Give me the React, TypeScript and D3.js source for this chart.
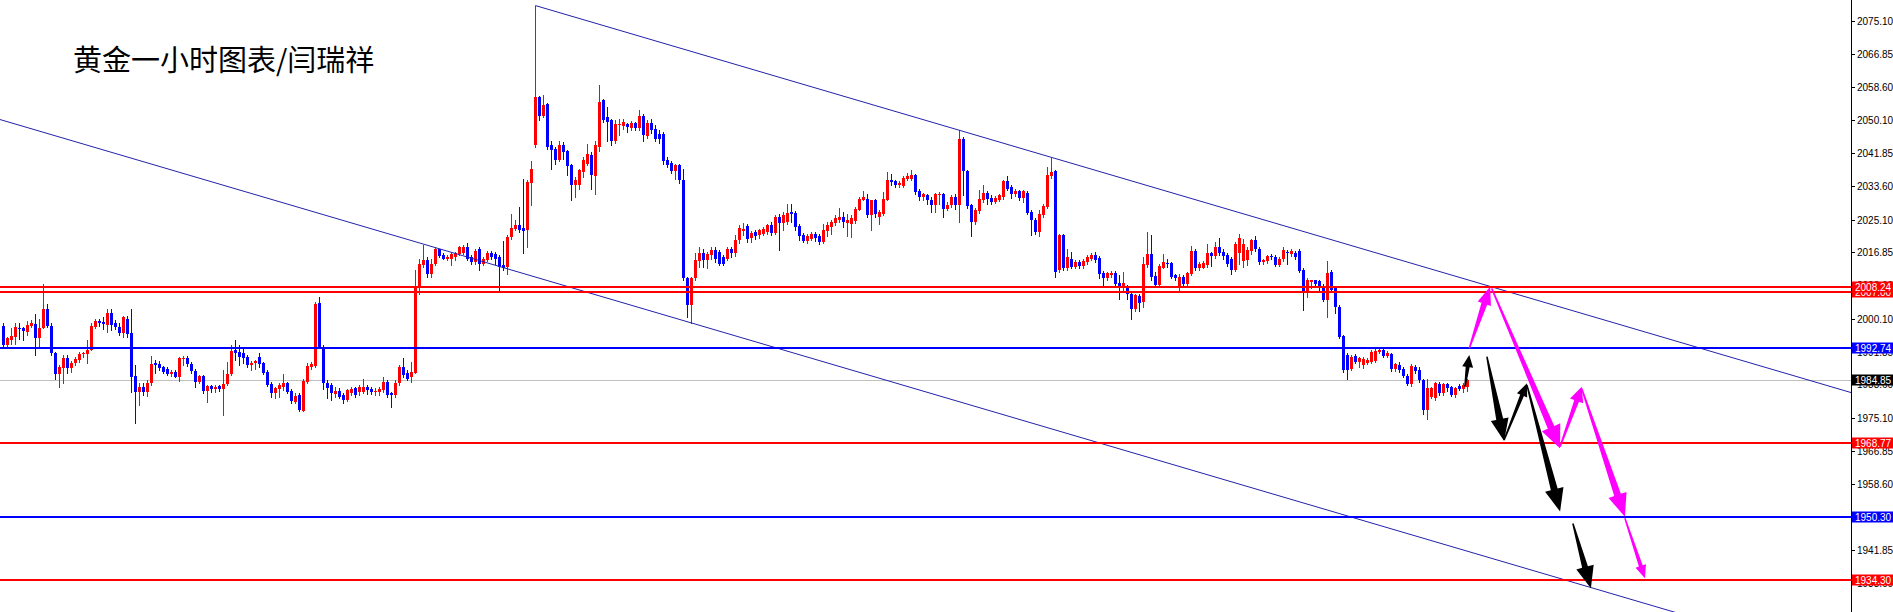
import React from 'react';
import * as d3 from 'd3';

const W = 1893;
const H = 612;
const AXIS_X = 1851;

// ---- OHLC data (hourly gold) ----
const opens = [
1998.3,1993.5,1994.9,1995.6,1997.9,1997.7,1996.9,1998.3,1998.8,1995.2,
1997.7,2002.5,1998.3,1991.4,1986.2,1987.7,1990.2,1987.7,1989.1,1989.8,
1991.2,1991.2,1992.4,1998.1,1999.6,1999.4,1998.6,2001.6,1999.1,1998.0,
1996.5,2000.2,1996.6,1985.7,1981.8,1983.0,1981.8,1984.0,1989.1,1988.7,
1987.9,1987.4,1986.2,1986.8,1985.4,1989.9,1990.3,1988.7,1987.1,1984.3,
1985.7,1982.0,1983.2,1982.4,1983.2,1982.4,1983.7,1986.2,1992.3,1991.8,
1991.4,1990.6,1988.5,1988.9,1990.4,1988.9,1986.8,1983.7,1981.4,1982.4,
1983.0,1983.9,1982.0,1979.3,1980.9,1977.0,1984.3,1988.1,1988.2,2004.2,
1993.1,1984.0,1983.5,1981.2,1982.0,1980.9,1979.7,1981.4,1982.6,1981.8,
1981.8,1983.0,1982.4,1981.7,1981.7,1982.2,1984.3,1981.4,1980.9,1983.9,
1988.1,1986.4,1985.6,1986.6,2007.8,2013.6,2015.0,2011.5,2014.0,2017.6,
2016.1,2015.3,2015.3,2015.6,2016.4,2016.6,2018.1,2015.7,2014.5,2017.6,
2014.0,2015.0,2016.7,2016.4,2015.7,2013.6,2013.2,2020.8,2022.8,2023.7,
2023.1,2022.4,2034.3,2043.8,2055.9,2051.1,2054.1,2043.8,2043.0,2040.2,
2043.8,2042.4,2038.8,2033.7,2033.7,2037.1,2039.2,2041.3,2036.0,2043.4,
2055.3,2050.9,2050.1,2045.0,2048.8,2048.6,2049.1,2048.2,2049.4,2048.2,
2051.3,2046.1,2049.4,2048.0,2046.7,2046.7,2040.0,2039.4,2037.3,2038.8,
2035.0,2010.3,2003.6,2010.3,2014.7,2016.6,2014.9,2016.1,2017.4,2017.0,
2015.7,2015.3,2017.8,2016.6,2019.9,2022.3,2023.4,2020.6,2022.0,2021.2,
2021.6,2022.0,2023.7,2021.8,2025.8,2024.3,2024.5,2027.0,2026.8,2023.4,
2021.2,2019.7,2020.3,2021.6,2020.9,2019.5,2022.3,2023.3,2024.3,2024.9,
2025.8,2024.3,2024.1,2024.8,2027.6,2030.1,2030.4,2026.2,2030.0,2025.8,
2026.6,2030.1,2035.2,2034.8,2033.7,2033.5,2035.4,2035.4,2036.3,2032.3,
2030.8,2031.2,2030.1,2028.7,2031.2,2031.5,2027.9,2028.7,2030.9,2028.7,
2045.5,2037.3,2028.7,2024.5,2027.3,2030.1,2031.8,2030.6,2029.5,2030.1,
2030.8,2034.8,2033.3,2031.5,2032.3,2030.6,2031.8,2027.0,2025.1,2022.0,
2026.2,2028.3,2036.0,2037.3,2012.4,2021.2,2012.8,2015.3,2013.2,2014.5,
2013.4,2014.5,2015.3,2016.1,2015.5,2011.7,2010.3,2011.1,2011.7,2009.2,
2008.2,2008.2,2006.5,2002.5,2005.8,2004.4,2013.6,2016.4,2010.9,2008.6,
2013.0,2014.2,2014.2,2011.1,2007.8,2010.7,2008.8,2011.5,2017.3,2012.8,
2013.0,2013.6,2016.6,2015.9,2018.1,2016.9,2016.1,2015.3,2012.5,2016.7,
2014.7,2014.9,2017.2,2019.9,2017.8,2014.5,2014.7,2015.9,2015.7,2013.6,
2015.1,2017.0,2016.4,2016.7,2017.2,2012.5,2006.9,2009.4,2009.9,2009.7,
2008.2,2004.8,2011.9,2007.8,2003.2,1995.8,1991.0,1987.6,1990.8,1989.3,
1988.5,1988.9,1989.3,1989.6,1991.8,1992.3,1990.8,1991.3,1987.4,1988.5,
1987.4,1985.7,1983.7,1988.1,1987.2,1984.7,1977.2,1980.5,1980.1,1983.7,
1981.4,1983.7,1982.9,1981.0,1983.2,1982.4,1983.0
];
const highs = [
1999.0,1995.6,1997.7,1999.0,1999.0,1998.1,1999.6,1999.8,2001.3,2000.2,
2008.9,2003.8,1999.0,1991.8,1988.5,1991.0,1991.0,1989.6,1990.6,1991.8,
1991.8,1994.8,1999.0,2000.2,2000.2,2000.6,2002.7,2002.7,1999.8,1999.0,
2000.8,2000.8,2002.7,1988.5,1984.0,1983.9,1984.7,1990.8,1989.8,1989.6,
1988.2,1987.9,1987.2,1987.2,1990.6,1990.8,1990.8,1989.3,1987.6,1986.0,
1986.0,1983.5,1983.5,1983.5,1983.5,1987.2,1989.3,1993.5,1994.8,1993.5,
1992.7,1991.0,1989.5,1989.8,1991.4,1989.3,1987.2,1984.3,1983.0,1983.9,
1986.2,1984.3,1982.4,1981.4,1981.4,1984.9,1988.9,1989.3,2004.4,2005.7,
1993.5,1984.7,1983.9,1983.0,1982.6,1981.5,1982.4,1983.0,1983.0,1983.5,
1984.9,1983.5,1982.9,1982.6,1983.0,1985.6,1984.7,1981.8,1984.7,1988.5,
1990.2,1987.2,1989.3,2012.4,2015.1,2018.7,2015.7,2015.3,2018.1,2017.8,
2016.6,2016.1,2017.0,2017.0,2018.4,2018.7,2019.1,2016.1,2017.8,2018.2,
2015.7,2017.2,2017.2,2017.0,2016.1,2019.8,2021.2,2026.6,2024.9,2028.3,
2035.4,2035.0,2039.9,2079.0,2056.3,2056.4,2054.4,2045.0,2043.4,2045.0,
2044.6,2042.7,2039.2,2035.8,2037.9,2040.9,2044.2,2042.1,2045.0,2058.9,
2055.5,2053.4,2050.5,2050.1,2050.5,2050.5,2049.4,2049.9,2049.6,2052.6,
2051.8,2050.1,2050.5,2048.8,2047.6,2047.1,2040.9,2039.9,2039.2,2039.2,
2037.9,2010.7,2010.7,2016.6,2018.2,2017.8,2017.0,2018.2,2018.2,2017.4,
2016.1,2018.2,2018.2,2021.2,2023.7,2024.3,2024.1,2022.3,2022.4,2022.8,
2023.3,2024.1,2024.5,2026.2,2026.5,2027.0,2029.1,2029.1,2027.3,2024.1,
2021.8,2021.4,2022.0,2022.0,2021.4,2024.1,2024.5,2025.1,2026.2,2028.1,
2027.0,2026.6,2026.2,2028.3,2030.8,2032.3,2031.6,2030.1,2030.4,2027.5,
2032.1,2037.1,2036.5,2035.2,2034.8,2036.0,2036.8,2037.7,2036.7,2032.9,
2031.8,2031.6,2030.8,2031.8,2032.1,2031.8,2029.5,2031.2,2031.6,2047.6,
2045.9,2037.7,2029.1,2028.1,2032.6,2033.7,2032.3,2031.2,2031.0,2031.6,
2035.0,2036.0,2033.7,2032.9,2032.6,2032.6,2032.3,2027.6,2025.6,2027.6,
2029.0,2038.3,2040.7,2037.5,2021.6,2021.6,2017.8,2017.0,2014.9,2014.9,
2015.1,2016.1,2016.6,2016.9,2015.9,2012.2,2011.9,2012.2,2012.2,2011.1,
2011.9,2008.6,2006.9,2006.5,2006.3,2015.6,2022.0,2021.2,2011.9,2013.9,
2016.4,2015.1,2014.5,2011.4,2011.5,2011.1,2011.9,2018.4,2017.6,2014.5,
2014.7,2018.9,2017.0,2019.5,2020.6,2017.6,2016.6,2015.7,2019.5,2021.6,
2020.3,2018.1,2020.3,2020.9,2018.2,2015.3,2016.1,2016.4,2016.1,2015.7,
2018.1,2017.4,2017.6,2017.2,2017.6,2012.8,2010.3,2010.0,2010.0,2010.0,
2009.0,2014.7,2012.4,2008.2,2003.6,1996.0,1991.4,1991.0,1991.3,1990.6,
1990.4,1990.2,1992.3,1992.7,1992.7,1992.7,1992.1,1991.6,1989.1,1989.3,
1987.9,1986.2,1988.7,1988.5,1987.9,1985.1,1984.9,1983.0,1984.3,1984.3,
1984.0,1984.0,1983.2,1983.0,1983.7,1983.9,1985.1
];
const lows = [
1992.9,1993.3,1993.9,1993.9,1995.0,1994.8,1996.0,1998.1,1991.0,1993.3,
1997.7,1998.1,1991.0,1984.9,1983.0,1984.0,1986.6,1986.8,1988.5,1989.3,
1990.6,1989.1,1992.3,1997.7,1998.3,1997.5,1996.9,1997.3,1997.5,1996.0,
1995.6,1995.6,1981.8,1973.8,1978.4,1981.0,1980.7,1983.5,1986.6,1987.2,
1986.4,1986.0,1985.7,1985.4,1984.6,1988.5,1988.2,1986.4,1982.9,1983.9,
1981.5,1979.3,1981.8,1981.8,1982.0,1975.9,1983.5,1986.0,1989.7,1988.5,
1988.9,1988.1,1987.2,1987.6,1988.1,1986.2,1983.2,1980.5,1980.1,1980.5,
1982.2,1981.4,1978.9,1978.9,1976.8,1976.8,1983.9,1987.6,1988.1,1992.7,
1982.4,1980.1,1979.7,1980.5,1980.1,1979.0,1979.5,1980.9,1980.5,1980.9,
1981.4,1981.2,1981.2,1980.9,1980.9,1981.8,1980.5,1978.0,1980.5,1983.5,
1985.6,1984.7,1984.3,1986.4,2006.5,2013.2,2010.7,2010.7,2013.6,2015.6,
2015.1,2014.9,2013.6,2015.0,2016.1,2016.4,2015.0,2014.0,2014.0,2012.4,
2013.6,2014.7,2015.1,2014.0,2006.9,2012.5,2011.5,2020.3,2022.4,2022.0,
2016.6,2018.2,2028.7,2043.4,2050.1,2050.9,2042.9,2037.9,2039.2,2039.9,
2040.4,2036.3,2030.0,2030.8,2032.9,2035.8,2038.8,2032.9,2031.6,2042.5,
2049.7,2045.0,2043.8,2044.4,2046.3,2048.0,2047.1,2047.7,2047.7,2047.7,
2045.0,2045.7,2046.9,2045.0,2044.4,2039.2,2038.4,2036.9,2035.4,2034.2,
2009.9,2000.6,1999.1,2009.9,2013.2,2013.2,2012.8,2015.3,2014.5,2013.6,
2013.6,2014.9,2015.7,2015.9,2019.1,2021.2,2019.5,2019.5,2020.1,2020.6,
2021.2,2021.6,2021.2,2021.4,2017.4,2022.4,2023.9,2024.5,2022.4,2019.9,
2019.5,2019.2,2019.9,2019.7,2018.9,2019.2,2020.9,2021.6,2023.7,2024.5,
2023.3,2020.9,2020.8,2024.3,2027.5,2030.0,2025.8,2022.4,2025.8,2023.9,
2026.2,2030.0,2033.7,2033.3,2033.3,2033.2,2035.0,2035.0,2031.6,2030.0,
2030.0,2029.1,2027.0,2027.0,2029.1,2025.8,2027.5,2028.3,2027.9,2024.5,
2031.2,2028.1,2020.9,2024.1,2026.8,2029.5,2029.1,2029.0,2029.3,2029.8,
2030.4,2032.5,2030.6,2031.0,2030.0,2029.5,2026.5,2021.2,2021.6,2020.9,
2025.8,2028.1,2035.7,2010.7,2011.9,2012.5,2012.5,2012.8,2012.8,2012.8,
2013.0,2014.0,2014.9,2014.5,2010.3,2008.4,2009.9,2010.7,2008.4,2005.2,
2007.3,2005.2,2000.2,2002.2,2002.2,2003.2,2013.2,2010.0,2008.2,2008.2,
2012.8,2013.2,2010.3,2010.0,2007.2,2008.4,2008.6,2011.1,2012.5,2012.5,
2012.8,2013.2,2013.4,2015.5,2016.1,2015.3,2013.4,2011.4,2012.2,2014.0,
2013.2,2013.6,2016.4,2017.2,2014.0,2014.0,2014.2,2015.1,2013.4,2013.4,
2014.7,2014.0,2015.9,2015.3,2011.9,2002.3,2005.5,2007.8,2008.6,2007.3,
2004.7,2000.6,2006.9,2001.5,1995.4,1986.8,1985.1,1987.2,1988.9,1988.1,
1987.7,1988.7,1989.1,1989.3,1991.4,1990.4,1990.4,1987.1,1987.1,1986.8,
1985.4,1983.5,1983.2,1986.4,1984.3,1976.2,1974.8,1980.1,1979.7,1980.9,
1980.9,1982.0,1980.7,1980.5,1982.2,1981.8,1982.0
];
const closes = [
1993.5,1995.2,1995.8,1998.1,1997.5,1997.1,1998.6,1999.0,1995.2,1997.7,
2002.5,1998.3,1991.4,1986.2,1987.9,1990.2,1987.7,1989.1,1989.9,1991.2,
1991.6,1992.4,1998.3,1999.6,1999.1,1998.7,2001.6,1998.6,1998.0,1996.5,
2000.5,1996.3,1985.6,1981.8,1983.0,1981.8,1984.0,1988.7,1988.5,1987.7,
1986.8,1986.2,1986.8,1985.6,1990.2,1990.3,1988.7,1987.1,1984.3,1985.7,
1982.0,1983.2,1982.4,1983.0,1982.4,1983.7,1986.2,1992.1,1991.4,1990.4,
1990.2,1988.5,1989.1,1989.5,1988.7,1986.6,1983.5,1981.5,1982.6,1983.5,
1984.0,1981.8,1979.5,1980.7,1977.2,1984.5,1988.2,1988.7,2003.8,1992.9,
1983.9,1982.6,1981.4,1982.0,1980.5,1979.7,1982.2,1982.4,1980.9,1983.0,
1983.0,1982.2,1981.8,1982.0,1982.4,1984.3,1981.0,1981.0,1984.0,1988.1,
1986.0,1985.1,1986.8,2008.0,2014.0,2014.9,2011.5,2014.0,2017.8,2015.9,
2015.3,2015.7,2016.4,2016.6,2018.1,2018.1,2015.3,2014.5,2017.2,2014.0,
2015.3,2016.7,2015.6,2015.3,2013.2,2013.0,2020.8,2023.1,2023.7,2022.4,
2022.3,2034.6,2037.9,2055.9,2051.1,2053.9,2043.5,2042.7,2040.2,2043.8,
2042.1,2038.5,2033.7,2035.0,2037.5,2040.0,2041.7,2036.3,2043.8,2054.7,
2050.1,2049.7,2045.0,2049.2,2049.2,2049.7,2048.4,2049.4,2048.2,2051.3,
2046.3,2049.4,2047.6,2045.5,2045.5,2039.9,2038.8,2037.3,2038.8,2035.0,
2010.3,2003.6,2010.3,2014.9,2016.6,2014.9,2016.4,2017.4,2015.3,2014.0,
2014.0,2017.6,2016.6,2019.9,2023.1,2022.8,2020.3,2021.8,2020.9,2022.4,
2022.8,2023.7,2021.8,2025.8,2024.3,2026.2,2026.8,2026.4,2023.3,2020.9,
2019.7,2020.9,2021.6,2020.6,2019.5,2022.4,2023.7,2024.5,2025.4,2025.8,
2024.5,2024.9,2025.4,2027.9,2030.4,2030.8,2026.2,2030.0,2026.6,2027.0,
2030.4,2035.2,2034.6,2033.7,2034.3,2035.7,2036.0,2036.3,2032.1,2030.8,
2031.5,2030.0,2028.7,2031.5,2031.6,2027.9,2028.7,2030.8,2028.7,2045.5,
2037.3,2028.5,2024.5,2027.5,2030.4,2031.8,2030.4,2029.5,2030.6,2031.2,
2034.8,2032.9,2031.5,2032.3,2030.6,2032.3,2026.8,2024.9,2022.0,2026.4,
2028.5,2036.3,2037.1,2011.9,2021.2,2013.0,2015.6,2013.2,2014.5,2013.4,
2014.7,2015.7,2016.1,2014.9,2011.5,2010.3,2011.7,2011.7,2009.0,2008.2,
2009.2,2006.5,2002.5,2006.1,2004.2,2014.0,2016.4,2010.7,2008.6,2013.4,
2014.5,2013.9,2010.7,2010.3,2010.7,2009.0,2011.7,2017.3,2012.8,2013.9,
2014.2,2016.6,2015.9,2018.1,2016.7,2015.9,2014.0,2012.5,2018.9,2020.6,
2018.9,2017.4,2019.9,2017.8,2014.5,2014.9,2015.9,2015.6,2013.6,2015.3,
2017.4,2016.6,2017.2,2015.6,2012.2,2006.9,2009.9,2009.9,2009.0,2007.8,
2004.8,2011.7,2007.3,2003.0,1995.6,1987.2,1987.2,1990.6,1989.3,1990.2,
1989.9,1989.8,1991.8,1992.1,1992.4,1990.8,1991.6,1987.4,1988.7,1987.2,
1985.7,1983.7,1988.2,1987.1,1984.7,1977.2,1982.6,1982.6,1983.9,1981.4,
1983.7,1982.6,1981.0,1982.6,1982.4,1983.5,1984.85
];

// price axis ticks
const tickValues = [2075.10, 2066.85, 2058.60, 2050.10, 2041.85, 2033.60, 2025.10, 2016.85, 2008.60,
  2000.10, 1991.85, 1983.60, 1975.10, 1966.85, 1958.60, 1950.10, 1941.85, 1933.60];

// horizontal levels
const redLevels = [2007.00, 2008.24, 1968.77, 1934.30];
const blueLevels = [1992.74, 1950.30];
const bidPrice = 1984.85;

// trend lines: two anchor points [barIndex, price]
const upperTrend = [[133, 2079.0], [239, 2047.6]];
const lowerTrend = [[-1, 2050.35], [172, 1999.1]];

// projected arrows: [fromBar, fromPrice, toBar, toPrice]
const blackArrows = [
  [365.4, 1983.0, 366.5, 1991.0],
  [370.9, 1990.6, 375.2, 1969.4],
  [375.2, 1969.6, 380.9, 1983.9],
  [380.9, 1983.5, 389.2, 1951.6],
  [392.4, 1948.6, 396.9, 1932.3],
];
const magentaArrows = [
  [366.5, 1992.7, 371.7, 2008.2],
  [372.1, 2007.8, 389.2, 1967.5],
  [389.2, 1967.9, 394.6, 1983.0],
  [394.6, 1982.6, 405.4, 1950.3],
  [405.4, 1949.9, 410.4, 1934.8],
];
// arrow head sizes [length, width, neck]
const blackHeads = [[12, 11, 4], [22, 18, 7], [13, 11, 4], [23, 19, 7], [22, 18, 6]];
const magentaHeads = [[18, 14, 6], [23, 20, 7], [15, 14, 5], [23, 19, 7], [13, 11, 4]];

const TITLE = '黄金一小时图表/闫瑞祥';

function arrowPath(x1: number, y1: number, x2: number, y2: number, hl: number, hw: number, nw: number) {
  const dx = x2 - x1, dy = y2 - y1;
  const len = Math.hypot(dx, dy);
  const ux = dx / len, uy = dy / len;
  const nx = -uy, ny = ux;
  const bx = x2 - ux * hl, by = y2 - uy * hl;
  const tw = 1.5;
  const pts = [
    [x1 + nx * tw / 2, y1 + ny * tw / 2],
    [bx + nx * nw / 2, by + ny * nw / 2],
    [bx + nx * hw / 2, by + ny * hw / 2],
    [x2, y2],
    [bx - nx * hw / 2, by - ny * hw / 2],
    [bx - nx * nw / 2, by - ny * nw / 2],
    [x1 - nx * tw / 2, y1 - ny * tw / 2],
  ];
  return 'M' + pts.map(p => p[0].toFixed(2) + ',' + p[1].toFixed(2)).join('L') + 'Z';
}

export default function App() {
  const n = Math.min(opens.length, highs.length, lows.length, closes.length);
  const x = d3.scaleLinear().domain([0, 366]).range([3.3, 1467.3]);
  const y = d3.scaleLinear().domain([1934.30, 2008.24]).range([580.3, 286.6]);

  const RED = '#ff0000';
  const BLUE = '#0000ff';

  const candles = [];
  for (let i = 0; i < n; i++) {
    const o = opens[i], h = highs[i], l = lows[i], c = closes[i];
    const up = c >= o;
    const col = up ? RED : BLUE;
    const cx = Math.round(x(i));
    const yt = Math.round(y(Math.max(o, c)));
    const yb = Math.round(y(Math.min(o, c)));
    candles.push(
      <g key={i}>
        <line x1={cx + 0.5} x2={cx + 0.5} y1={Math.round(y(h))} y2={Math.round(y(l)) + 1} stroke={col} strokeWidth={1} />
        <rect x={cx - 1} y={yt} width={3} height={Math.max(1, yb - yt)} fill={col} />
      </g>
    );
  }

  const trend = (pts: number[][]) => {
    const [[i1, p1], [i2, p2]] = pts;
    const m = (p2 - p1) / (i2 - i1);
    const start = i1 < 0 ? x.invert(0) : i1;
    const iEnd = x.invert(AXIS_X);
    const pa = p1 + m * (start - i1);
    const pb = p1 + m * (iEnd - i1);
    return <line x1={x(start)} y1={y(pa)} x2={x(iEnd)} y2={y(pb)} stroke="#2222aa" strokeWidth={1} />;
  };

  const hline = (p: number, col: string, w: number, key: string) => {
    const yy = Math.round(y(p));
    return <line key={key} x1={0} x2={AXIS_X} y1={w === 2 ? yy : yy + 0.5} y2={w === 2 ? yy : yy + 0.5} stroke={col} strokeWidth={w} />;
  };

  const labelBox = (p: number, bg: string, key: string) => {
    const yy = Math.round(y(p));
    return (
      <g key={key}>
        <rect x={AXIS_X + 1} y={yy - 5.5} width={W - AXIS_X - 1} height={11} fill={bg} />
        <text x={AXIS_X + 4} y={yy + 4} fill="#ffffff" fontSize={10} fontFamily="'Liberation Sans', Arial, sans-serif">{p.toFixed(2)}</text>
      </g>
    );
  };

  return (
    <svg width={W} height={H} style={{ position: 'fixed', left: 0, top: 0, background: '#ffffff' }} xmlns="http://www.w3.org/2000/svg">
      <defs>
        <clipPath id="plot"><rect x={0} y={0} width={AXIS_X} height={H} /></clipPath>
      </defs>
      <rect x={0} y={0} width={W} height={H} fill="#ffffff" />
      <g clipPath="url(#plot)">
        {hline(bidPrice, '#c0c0c0', 1, 'bid')}
        <g shapeRendering="crispEdges">{candles}</g>
        {trend(upperTrend)}
        {trend(lowerTrend)}
        {redLevels.map((p, i) => hline(p, RED, 2, 'r' + i))}
        {blueLevels.map((p, i) => hline(p, BLUE, 2, 'b' + i))}
        {blackArrows.map((a, i) => (
          <path key={'ba' + i} d={arrowPath(x(a[0]), y(a[1]), x(a[2]), y(a[3]), blackHeads[i][0], blackHeads[i][1], blackHeads[i][2])} fill="#000000" />
        ))}
        {magentaArrows.map((a, i) => (
          <path key={'ma' + i} d={arrowPath(x(a[0]), y(a[1]), x(a[2]), y(a[3]), magentaHeads[i][0], magentaHeads[i][1], magentaHeads[i][2])} fill="#ff00ff" />
        ))}
      </g>
      <text x={73} y={71} fontSize={29} fontFamily="'Noto Sans CJK SC', sans-serif" fill="#000000">{TITLE}</text>
      {/* price axis */}
      <line x1={AXIS_X + 0.5} x2={AXIS_X + 0.5} y1={0} y2={H} stroke="#000000" strokeWidth={1} />
      {tickValues.map((t, i) => {
        const yy = Math.round(y(t));
        return (
          <g key={'t' + i}>
            <line x1={AXIS_X + 1} x2={AXIS_X + 4} y1={yy + 0.5} y2={yy + 0.5} stroke="#000000" strokeWidth={1} />
            <text x={AXIS_X + 6} y={yy + 4} fontSize={10} fontFamily="'Liberation Sans', Arial, sans-serif" fill="#000000">{t.toFixed(2)}</text>
          </g>
        );
      })}
      {redLevels.map((p, i) => labelBox(p, RED, 'lr' + i))}
      {blueLevels.map((p, i) => labelBox(p, BLUE, 'lb' + i))}
      {labelBox(bidPrice, '#000000', 'lbid')}
    </svg>
  );
}
